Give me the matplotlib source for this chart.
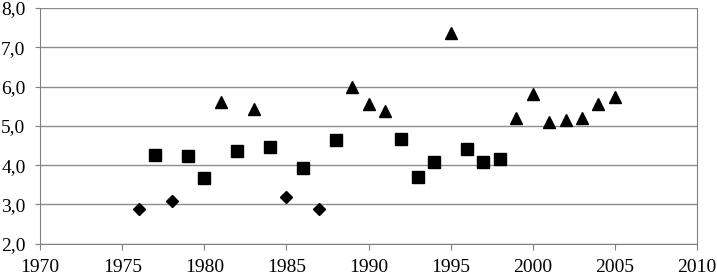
import matplotlib
matplotlib.use('Agg')
import matplotlib.pyplot as plt

plt.rcParams['font.family'] = ['Liberation Serif', 'DejaVu Serif']

diamond_years = [1976, 1978, 1985, 1987]
diamond_values = [2.88, 3.09, 3.19, 2.88]

square_years = [1977, 1979, 1980, 1982, 1984, 1986, 1988,
                1992, 1993, 1994, 1996, 1997, 1998]
square_values = [4.26, 4.23, 3.67, 4.35, 4.46, 3.93, 4.64,
                 4.66, 3.70, 4.09, 4.40, 4.08, 4.15]

triangle_years = [1981, 1983, 1989, 1990, 1991, 1995,
                  1999, 2000, 2001, 2002, 2003, 2004, 2005]
triangle_values = [5.60, 5.42, 6.00, 5.56, 5.38, 7.36,
                   5.21, 5.82, 5.11, 5.14, 5.19, 5.56, 5.74]

x_ticks = list(range(1970, 2011, 5))
y_ticks = [2.0, 3.0, 4.0, 5.0, 6.0, 7.0, 8.0]

fig = plt.figure(figsize=(7.17, 2.77), dpi=100)
ax = fig.add_axes([0.056, 0.12, 0.916, 0.851])

ax.plot(diamond_years, diamond_values, 'D', color='black', markersize=6.5, linestyle='none')
ax.plot(square_years, square_values, 's', color='black', markersize=8.5, linestyle='none')
ax.plot(triangle_years, triangle_values, '^', color='black', markersize=9, linestyle='none')

ax.set_xlim(1970, 2010)
ax.set_ylim(2.0, 8.0)
ax.set_xticks(x_ticks)
ax.set_yticks(y_ticks)
ax.set_xticklabels([str(t) for t in x_ticks], fontsize=14)
ax.set_yticklabels([('%.1f' % v).replace('.', ',') for v in y_ticks], fontsize=14)

ax.grid(axis='y', color='#8c8c8c', linewidth=1)
ax.set_axisbelow(True)
for side in ['left', 'bottom', 'right']:
    ax.spines[side].set_color('#808080')
ax.spines['top'].set_visible(False)
ax.tick_params(axis='both', colors='#808080', labelcolor='black', direction='out')
ax.tick_params(axis='y', length=3.5, pad=7)
ax.tick_params(axis='x', length=4, pad=7)

fig.savefig('out.png', dpi=100)
